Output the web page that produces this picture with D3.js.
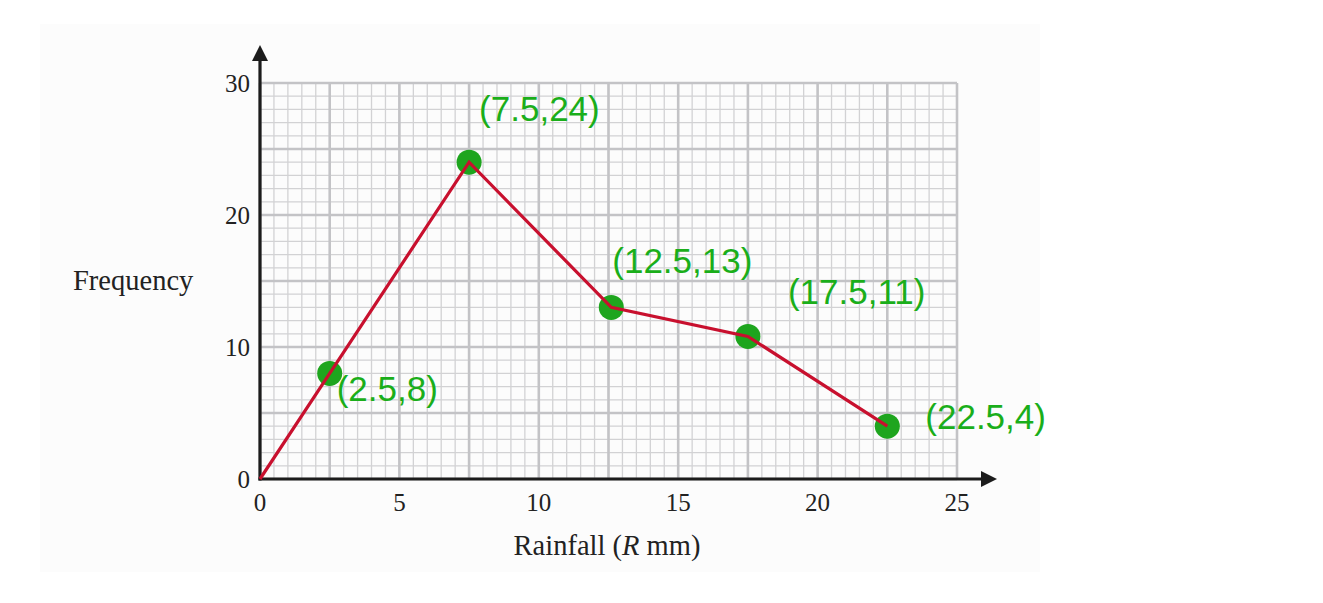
<!DOCTYPE html>
<html>
<head>
<meta charset="utf-8">
<script src="https://cdn.jsdelivr.net/npm/d3@7/dist/d3.min.js"></script>
<style>
  html, body { margin: 0; padding: 0; background: #fff; }
  svg { display: block; }
</style>
</head>
<body>
<svg id="chart" width="1323" height="603"></svg>
<script>
// ---- data ----
const rainfallMid = [0, 2.5, 7.5, 12.6, 17.5, 22.5];
const frequency   = [0, 8, 24, 13, 10.8, 4];
const pointLabels = [null, "(2.5,8)", "(7.5,24)", "(12.5,13)", "(17.5,11)", "(22.5,4)"];
const xTicks = [0, 5, 10, 15, 20, 25];
const yTicks = [0, 10, 20, 30];
const xTitle = ["Rainfall (", "R", " mm)"];
const yTitle = "Frequency";

// ---- layout (pixel offsets for labels) ----
const labelOffsets = [null, [7, 28], [10, -41], [1, -34], [40, -32], [38, 3]];

const svg = d3.select("#chart");
const x = d3.scaleLinear().domain([0, 25]).range([260, 957]);
const y = d3.scaleLinear().domain([0, 30]).range([479, 83]);

// very faint background panel
svg.append("rect").attr("x", 40).attr("y", 24).attr("width", 1000).attr("height", 548)
  .attr("fill", "#fcfcfc");

const g = svg.append("g");

// minor grid
const xMinor = d3.range(0, 25.001, 0.5);
const yMinor = d3.range(0, 30.001, 1);
g.append("g").selectAll("line").data(xMinor).join("line")
  .attr("x1", d => x(d)).attr("x2", d => x(d))
  .attr("y1", y(0)).attr("y2", y(30))
  .attr("stroke", "#d2d2d4").attr("stroke-width", 1.3);
g.append("g").selectAll("line").data(yMinor).join("line")
  .attr("y1", d => y(d)).attr("y2", d => y(d))
  .attr("x1", x(0)).attr("x2", x(25))
  .attr("stroke", "#d2d2d4").attr("stroke-width", 1.3);

// major grid
const xMajor = d3.range(0, 25.001, 2.5);
const yMajor = d3.range(0, 30.001, 5);
g.append("g").selectAll("line").data(xMajor).join("line")
  .attr("x1", d => x(d)).attr("x2", d => x(d))
  .attr("y1", y(0)).attr("y2", y(30))
  .attr("stroke", "#c3c3c6").attr("stroke-width", 2.6);
g.append("g").selectAll("line").data(yMajor).join("line")
  .attr("y1", d => y(d)).attr("y2", d => y(d))
  .attr("x1", x(0)).attr("x2", x(25))
  .attr("stroke", "#c3c3c6").attr("stroke-width", 2.6);

// axes
const axisColor = "#1c1c1c";
g.append("line").attr("x1", x(0)).attr("x2", x(0)).attr("y1", y(0) + 1.5).attr("y2", 56)
  .attr("stroke", axisColor).attr("stroke-width", 3.2);
g.append("line").attr("x1", x(0) - 1.5).attr("x2", 986).attr("y1", y(0)).attr("y2", y(0))
  .attr("stroke", axisColor).attr("stroke-width", 3.2);
// arrowheads
g.append("path")
  .attr("d", `M${x(0)},45 L${x(0) - 8},61 L${x(0) + 8},61 Z`)
  .attr("fill", axisColor);
g.append("path")
  .attr("d", `M997,${y(0)} L981,${y(0) - 8} L981,${y(0) + 8} Z`)
  .attr("fill", axisColor);

// tick labels
const serif = "'Liberation Serif', 'Times New Roman', serif";
g.append("g").selectAll("text").data(xTicks).join("text")
  .attr("x", d => x(d)).attr("y", y(0) + 32)
  .attr("text-anchor", "middle")
  .attr("font-family", serif).attr("font-size", 25).attr("fill", "#222")
  .text(d => d);
g.append("g").selectAll("text").data(yTicks).join("text")
  .attr("x", 250).attr("y", d => y(d) + 9)
  .attr("text-anchor", "end")
  .attr("font-family", serif).attr("font-size", 25).attr("fill", "#222")
  .text(d => d);

// axis titles
g.append("text").attr("x", 73).attr("y", 290)
  .attr("font-family", serif).attr("font-size", 28.5).attr("fill", "#222")
  .text(yTitle);
const xt = g.append("text").attr("x", 607).attr("y", 555)
  .attr("text-anchor", "middle")
  .attr("font-family", serif).attr("font-size", 28.5).attr("fill", "#222");
xt.append("tspan").text(xTitle[0]);
xt.append("tspan").attr("font-style", "italic").text(xTitle[1]);
xt.append("tspan").text(xTitle[2]);

// dots
const pts = rainfallMid.map((d, i) => [d, frequency[i]]);
const dotData = pts.slice(1);
g.append("g").selectAll("circle").data(dotData).join("circle")
  .attr("cx", d => x(d[0])).attr("cy", d => y(d[1]))
  .attr("r", 12.5)
  .attr("fill", "#1ea51e");

// polygon line (drawn over dots)
g.append("path")
  .datum(pts)
  .attr("fill", "none")
  .attr("stroke", "#c8102e")
  .attr("stroke-width", 3.2)
  .attr("stroke-linejoin", "miter")
  .attr("d", d3.line().x(d => x(d[0])).y(d => y(d[1])));

// labels
const labelIdx = d3.range(1, rainfallMid.length);
g.append("g").selectAll("text").data(labelIdx).join("text")
  .attr("x", i => x(rainfallMid[i]) + labelOffsets[i][0])
  .attr("y", i => y(frequency[i]) + labelOffsets[i][1])
  .attr("font-family", "'Liberation Sans', Arial, sans-serif")
  .attr("font-size", 35)
  .attr("fill", "#1aae1a")
  .text(i => pointLabels[i]);
</script>
</body>
</html>
